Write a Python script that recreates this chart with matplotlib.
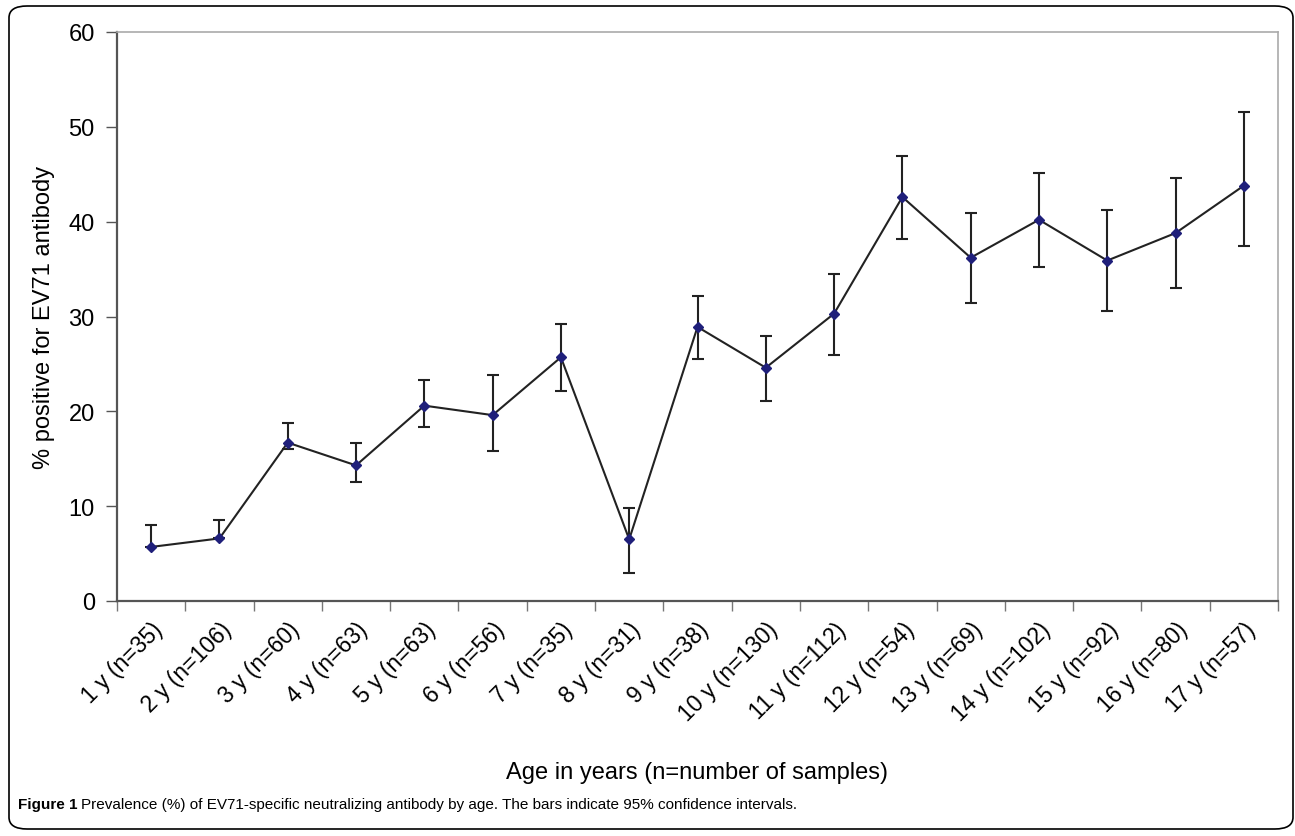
import numpy as np
import matplotlib.pyplot as plt
from matplotlib.patches import FancyBboxPatch

plt.rcParams["font.family"] = ["Liberation Sans", "DejaVu Sans"]

# Prevalence by age with 95% CI
ages = ["1 y (n=35)", "2 y (n=106)", "3 y (n=60)", "4 y (n=63)", "5 y (n=63)",
        "6 y (n=56)", "7 y (n=35)", "8 y (n=31)", "9 y (n=38)", "10 y (n=130)",
        "11 y (n=112)", "12 y (n=54)", "13 y (n=69)", "14 y (n=102)", "15 y (n=92)",
        "16 y (n=80)", "17 y (n=57)"]
prevalence = [5.7, 6.6, 16.7, 14.3, 20.6, 19.6, 25.7, 6.5, 28.9, 24.6,
              30.3, 42.6, 36.2, 40.2, 35.9, 38.8, 43.8]
ci_upper = [8.0, 8.5, 18.8, 16.7, 23.3, 23.8, 29.2, 9.8, 32.2, 27.9,
            34.5, 46.9, 40.9, 45.1, 41.2, 44.6, 51.6]
ci_lower = [5.7, 6.6, 16.0, 12.6, 18.4, 15.8, 22.1, 3.0, 25.5, 21.1,
            25.9, 38.2, 31.4, 35.2, 30.6, 33.0, 37.4]

W, H = 1295, 837
fig = plt.figure(figsize=(W / 100, H / 100), dpi=100)

# outer rounded frame
frame = FancyBboxPatch((9 / W, 7 / H), (1293 - 9) / W, (830 - 7) / H,
                       boxstyle="round,pad=0,rounding_size=0.014",
                       transform=fig.transFigure, fill=False,
                       edgecolor="black", linewidth=1.2)
fig.patches.append(frame)

ax = fig.add_axes([117 / W, 1 - 602 / H, (1278 - 117) / W, (602 - 33) / H])

x = np.arange(1, len(ages) + 1)
y = np.array(prevalence)
yerr = np.array([y - np.array(ci_lower), np.array(ci_upper) - y])

ax.errorbar(x, y, yerr=yerr, fmt="none", ecolor="#222222", elinewidth=1.5,
            capsize=4, capthick=1.5, zorder=2)
ax.plot(x, y, color="#222222", linewidth=1.5, zorder=3)
ax.plot(x, y, linestyle="none", marker="D", markersize=5,
        color="#1f1f7a", markeredgecolor="#1f1f7a", zorder=4)

ax.set_xlim(0.5, len(ages) + 0.5)
ax.set_ylim(0, 60)
ax.set_yticks(range(0, 61, 10))
ax.tick_params(axis="y", direction="out", length=8, width=1, color="#555555",
               labelsize=17, pad=8)

# ticks between categories, labels at category centres
ax.set_xticks(np.arange(0.5, len(ages) + 1, 1.0))
ax.set_xticklabels([])
ax.tick_params(axis="x", which="major", direction="out", length=7, width=1,
               color="#777777")
ax.set_xticks(x, minor=True)
ax.set_xticklabels(ages, minor=True, rotation=45, ha="right",
                   rotation_mode="anchor", fontsize=16.5)
ax.tick_params(axis="x", which="minor", length=0, pad=12)

for side in ["left", "bottom"]:
    ax.spines[side].set_color("#555555")
    ax.spines[side].set_linewidth(1.6)
for side in ["top", "right"]:
    ax.spines[side].set_color("#aaaaaa")
    ax.spines[side].set_linewidth(1.2)

ax.set_ylabel("% positive for EV71 antibody", fontsize=17, labelpad=10)
fig.text(697 / W, 1 - 773 / H, "Age in years (n=number of samples)",
         ha="center", va="center", fontsize=17)

# caption: bold lead-in, then plain text right after it
cap_y = 1 - 805 / H
lead = fig.text(18 / W, cap_y, "Figure 1", ha="left", va="center",
                fontsize=11, fontweight="bold")
fig.canvas.draw()
bb = lead.get_window_extent()
fig.text((bb.x1 + 4) / W, cap_y,
         "Prevalence (%) of EV71-specific neutralizing antibody by age. "
         "The bars indicate 95% confidence intervals.",
         ha="left", va="center", fontsize=11)

plt.savefig("out.png", dpi=100)
plt.close()
